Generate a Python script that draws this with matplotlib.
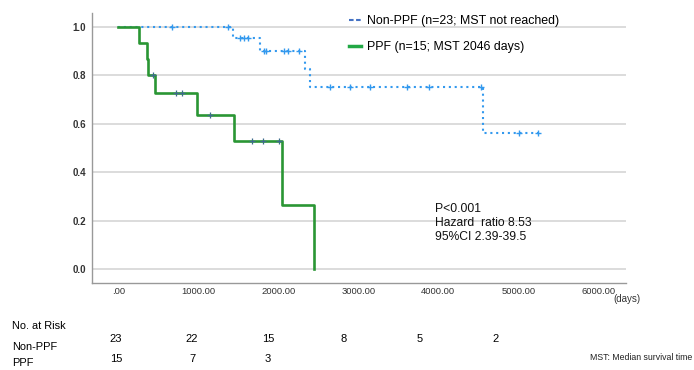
import numpy as np
import matplotlib
matplotlib.use("Agg")
import matplotlib.pyplot as plt
from matplotlib.lines import Line2D

plt.rcParams['font.family'] = ['Liberation Sans', 'DejaVu Sans']

# Kaplan-Meier steps (days, survival)
nonppf_t = [0, 1430, 1771, 2334, 2391, 4558, 5241]
nonppf_s = [1.0, 0.955, 0.900, 0.825, 0.750, 0.563, 0.563]
nonppf_cens = [670, 1375, 1522, 1566, 1620, 1825, 1850, 2075, 2125, 2260,
               2641, 2891, 3146, 3604, 3879, 4533, 5004, 5241]

ppf_t = [0, 259, 355, 375, 459, 990, 1450, 2050, 2446]
ppf_s = [1.0, 0.933, 0.867, 0.800, 0.727, 0.636, 0.530, 0.265, 0.0]
ppf_cens = [433, 720, 795, 1141, 1675, 1813, 2013]

risk_times = [0, 1000, 2000, 3000, 4000, 5000]
risk_nonppf = [23, 22, 15, 8, 5, 2]
risk_ppf = [15, 7, 3]

xticks = [0, 1000, 2000, 3000, 4000, 5000, 6000]
xticklabels = ['.00', '1000.00', '2000.00', '3000.00', '4000.00', '5000.00', '6000.00']
yticks = [0.0, 0.2, 0.4, 0.6, 0.8, 1.0]

BLUE = '#3399ee'
GREEN = '#2a9634'
W, H = 694, 370


def surv_at(t, times, surv):
    idx = np.searchsorted(times, t, side='right') - 1
    return np.array(surv)[idx]


fig = plt.figure(figsize=(W / 100, H / 100), dpi=100)
ax = fig.add_axes([91.7 / W, 1 - 282.7 / H, (626 - 91.7) / W, (282.7 - 13) / H])

# curves
ax.step(nonppf_t, nonppf_s, where='post', color=BLUE, lw=1.5,
        linestyle=(0, (1, 1.8)), zorder=3)
ax.plot(nonppf_cens, surv_at(nonppf_cens, nonppf_t, nonppf_s), '+',
        color=BLUE, ms=5, mew=1, zorder=4)

ax.step(ppf_t, ppf_s, where='post', color=GREEN, lw=1.9, zorder=3)
ax.plot(ppf_cens, surv_at(ppf_cens, ppf_t, ppf_s), '+',
        color='#3d6b8c', ms=5, mew=0.9, zorder=4)

# axes styling
ax.set_xlim(-332, 6346)
ax.set_ylim(-0.055, 1.057)
ax.set_xticks(xticks)
ax.set_xticklabels(xticklabels)
ax.set_yticks(yticks)
ax.set_yticklabels(['0.0', '0.2', '0.4', '0.6', '0.8', '1.0'])
ax.tick_params(axis='both', length=0, labelsize=7, colors='#333333')
ax.tick_params(axis='x', pad=3, labelsize=6.8)
ax.tick_params(axis='y', pad=4)
for lab in ax.get_yticklabels():
    lab.set_fontweight('bold')
ax.grid(axis='y', color='#d9d9d9', lw=1.3, zorder=0)
for side in ['top', 'right']:
    ax.spines[side].set_visible(False)
for side in ['left', 'bottom']:
    ax.spines[side].set_color('#999999')
    ax.spines[side].set_linewidth(1.0)

# legend
handles = [Line2D([], [], color='#4472c4', lw=1.5, linestyle=(0, (2.2, 1.2))),
           Line2D([], [], color='#22a845', lw=2.5)]
labels = ['Non-PPF (n=23; MST not reached)', 'PPF (n=15; MST 2046 days)']
fig.legend(handles, labels, loc='upper left', bbox_to_anchor=(344 / W, 1 - 10.5 / H),
           frameon=False, fontsize=8.9, handlelength=0.95, handletextpad=0.55,
           labelspacing=1.12, borderaxespad=0)

# statistics
fig.text(435 / W, 1 - 222.7 / H, 'P<0.001\nHazard  ratio 8.53\n95%CI 2.39-39.5',
         fontsize=8.7, va='center', ha='left', linespacing=1.2, color='#111111')

fig.text(613 / W, 1 - 299 / H, '(days)', fontsize=7, va='center', ha='left',
         color='#333333')

# number at risk table
fig.text(12 / W, 1 - 326 / H, 'No. at Risk', fontsize=7.9, va='center')
fig.text(12 / W, 1 - 346.7 / H, 'Non-PPF', fontsize=7.9, va='center')
fig.text(12 / W, 1 - 363.5 / H, 'PPF', fontsize=7.9, va='center')
for t, n in zip(risk_times, risk_nonppf):
    fig.text((116 + t * 0.076) / W, 1 - 339.3 / H, str(n), fontsize=8,
             ha='center', va='center')
for t, n in zip(risk_times, risk_ppf):
    fig.text((116 + t * 0.076) / W, 1 - 359.5 / H, str(n), fontsize=8,
             ha='center', va='center')

fig.text(692 / W, 1 - 358 / H, 'MST: Median survival time', fontsize=6.3,
         ha='right', va='center', color='#222222')

fig.savefig('out.png', dpi=100)
